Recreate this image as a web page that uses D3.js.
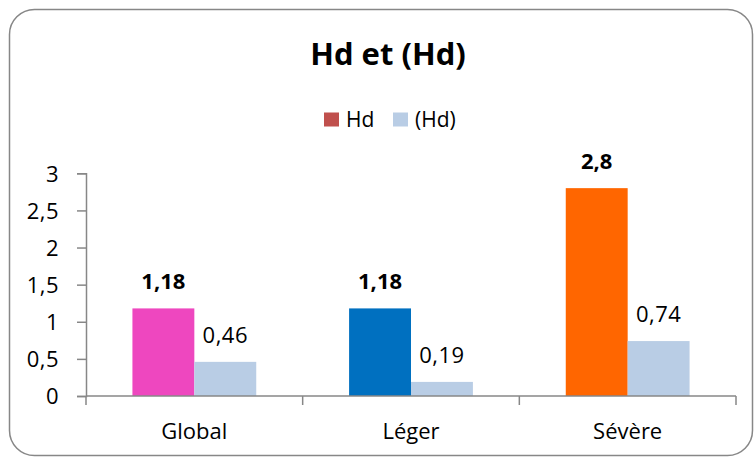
<!DOCTYPE html>
<html>
<head>
<meta charset="utf-8">
<script src="https://cdn.jsdelivr.net/npm/d3@7"></script>
<style>
  html, body { margin: 0; padding: 0; background: #fff; }
  svg { display: block; }
  text { font-family: "Open Sans", "Noto Sans", sans-serif; fill: #000; }
</style>
</head>
<body>
<svg id="chart" width="754" height="457"></svg>
<script>
const categories = ["Global", "Léger", "Sévère"];
const seriesNames = ["Hd", "(Hd)"];
const hdValues = [1.18, 1.18, 2.8];
const hdParenValues = [0.46, 0.19, 0.74];
const hdColors = ["#EE47BF", "#0070C0", "#FF6600"];
const legendColors = ["#C0504D", "#B9CDE5"];
const yTicks = [0, 0.5, 1, 1.5, 2, 2.5, 3];
const title = "Hd et (Hd)";

const svg = d3.select("#chart");
const fmt = v => String(v).replace(".", ",");

// frame
svg.append("rect")
  .attr("x", 9.5).attr("y", 9.5)
  .attr("width", 743).attr("height", 446)
  .attr("rx", 25).attr("ry", 25)
  .attr("fill", "#fff").attr("stroke", "#878787").attr("stroke-width", 1.5);

// title
svg.append("text")
  .attr("x", 388).attr("y", 65)
  .attr("text-anchor", "middle")
  .style("font-size", "31px").style("font-weight", "bold")
  .text(title);

// legend
const legend = svg.append("g");
const legendItems = [
  { name: seriesNames[0], color: legendColors[0], x: 324 },
  { name: seriesNames[1], color: legendColors[1], x: 393 }
];
legendItems.forEach(it => {
  legend.append("rect").attr("x", it.x).attr("y", 112.5)
    .attr("width", 15).attr("height", 14).attr("fill", it.color);
  legend.append("text").attr("x", it.x + 22).attr("y", 127)
    .style("font-size", "21px").text(it.name);
});

// scales
const x = d3.scaleBand().domain(categories).range([86, 736]).padding(0);
const y = d3.scaleLinear().domain([0, 3]).range([396, 173.3]);
const barW = x.bandwidth() / 3.5;
const inner = d3.scaleBand().domain(seriesNames).range([0, 2 * barW]);
const groupOffset = (x.bandwidth() - 2 * barW) / 2;

// y axis
const yAxis = d3.axisLeft(y).tickValues(yTicks).tickFormat(fmt).tickSize(9).tickPadding(18);
const gy = svg.append("g").attr("transform", "translate(86,0)").call(yAxis);
gy.select(".domain").attr("stroke", "#878787").attr("stroke-width", 1.5);
gy.selectAll(".tick line").attr("stroke", "#878787").attr("stroke-width", 1.5);
gy.selectAll(".tick text").style("font-size", "22px").style("font-family", "'Open Sans', sans-serif")
  .style("letter-spacing", "0.5px").attr("fill", "#000").attr("dy", "0.36em");

// x axis
const xAxis = d3.axisBottom(x).tickSize(0).tickPadding(0);
const gx = svg.append("g").attr("transform", "translate(0,396)").call(xAxis);
gx.select(".domain").remove();
gx.selectAll(".tick text").style("font-size", "22px").style("font-family", "'Open Sans', sans-serif")
  .attr("fill", "#000").attr("dy", 0).attr("y", 43);
// category boundary ticks
const bounds = categories.map(c => x(c)).concat([x(categories[categories.length - 1]) + x.bandwidth()]);
svg.selectAll(".ctick").data(bounds).enter().append("line")
  .attr("x1", d => d).attr("x2", d => d).attr("y1", 396).attr("y2", 405)
  .attr("stroke", "#878787").attr("stroke-width", 1.5);

// bars
const data = categories.map((c, i) => ({ c, i, hd: hdValues[i], hp: hdParenValues[i] }));
const g = svg.append("g");
data.forEach(d => {
  const gx0 = x(d.c) + groupOffset;
  const bx1 = gx0 + inner(seriesNames[0]);
  const bx2 = gx0 + inner(seriesNames[1]);
  g.append("rect").attr("x", bx1).attr("y", y(d.hd)).attr("width", barW).attr("height", y(0) - y(d.hd))
    .attr("fill", hdColors[d.i]);
  g.append("rect").attr("x", bx2).attr("y", y(d.hp)).attr("width", barW).attr("height", y(0) - y(d.hp))
    .attr("fill", legendColors[1]);
  g.append("text").attr("x", bx1 + barW / 2).attr("y", y(d.hd) - 19)
    .attr("text-anchor", "middle").style("font-size", "22px").style("font-weight", "bold")
    .text(fmt(d.hd));
  g.append("text").attr("x", bx2 + barW / 2).attr("y", y(d.hp) - 19)
    .attr("text-anchor", "middle").style("font-size", "22px").style("letter-spacing", "0.5px")
    .text(fmt(d.hp));
});
// axis line above bars
svg.append("line").attr("x1", 86).attr("x2", 736).attr("y1", 396).attr("y2", 396)
  .attr("stroke", "#878787").attr("stroke-width", 1.5);
</script>
</body>
</html>
